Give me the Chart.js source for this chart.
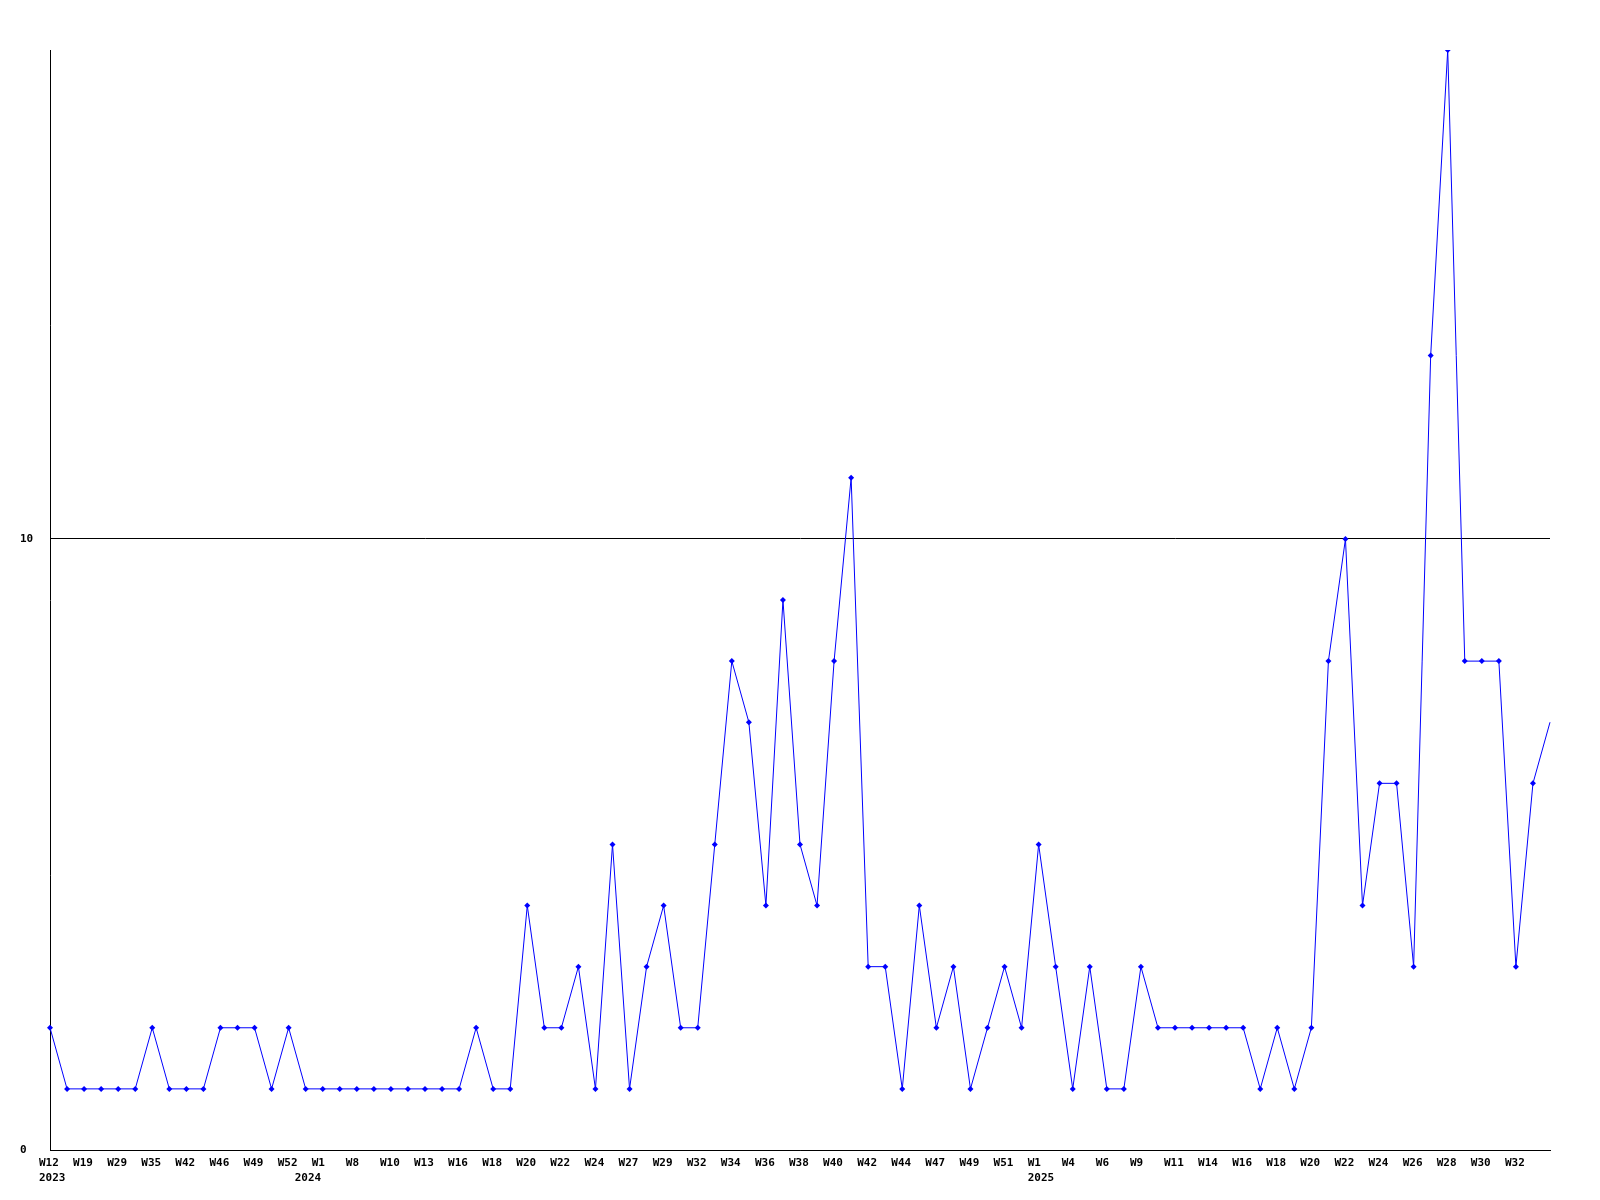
<!DOCTYPE html>
<html>
<head>
<meta charset="utf-8">
<script src="https://cdn.jsdelivr.net/npm/chart.js@4/dist/chart.umd.min.js"></script>
<style>
  html, body { margin: 0; padding: 0; background: #fff; }
  #wrap { width: 1600px; height: 1200px; }
</style>
</head>
<body>
<div id="wrap"><canvas id="graf"></canvas></div>
<script>
"use strict";

// week labels, one per data point (odd ones are not shown on the axis)
const uger = [
  "W12","W15","W19","W24","W29","W33","W35","W38","W42","W44","W46","W48","W49","W51","W52","W53",
  "W1","W5","W8","W9","W10","W12","W13","W15","W16","W17","W18","W19","W20","W21","W22","W23",
  "W24","W26","W27","W28","W29","W31","W32","W33","W34","W35","W36","W37","W38","W39","W40","W41",
  "W42","W43","W44","W45","W47","W48","W49","W50","W51","W52",
  "W1","W2","W4","W5","W6","W8","W9","W10","W11","W13","W14","W15","W16","W17","W18","W19",
  "W20","W21","W22","W23","W24","W25","W26","W27","W28","W29","W30","W31","W32","W33","W34"
];
const aarIndeks = [0, 15, 58];
const aarTekst  = ["2023", "2024", "2025"];

const antal = [
  2,1,1,1,1,1,2,1,1,1,2,2,2,1,2,1,
  1,1,1,1,1,1,1,1,1,2,1,1,4,2,2,3,
  1,5,1,3,4,2,2,5,8,7,4,9,5,4,8,11,
  3,3,1,4,2,3,1,2,3,2,
  5,3,1,3,1,1,3,2,2,2,2,2,2,1,2,1,
  2,8,10,4,6,6,3,13,18,8,8,8,3,6,7
];

const yTicks = [0, 10];

const skrift = { family: "'DejaVu Sans Mono', monospace", size: 11, weight: "bold", lineHeight: 1.35 };

new Chart(document.getElementById("graf").getContext("2d"), {
  type: "line",
  data: {
    labels: uger,
    datasets: [{
      data: antal,
      borderColor: "#0000ff",
      backgroundColor: "#0000ff",
      borderWidth: 1,
      tension: 0,
      pointStyle: "rectRot",
      pointRadius: antal.map((v, i) => i === antal.length - 1 ? 0 : 3),
      pointBorderWidth: 0,
      fill: false
    }]
  },
  options: {
    responsive: true,
    maintainAspectRatio: false,
    animation: false,
    layout: { padding: { left: 20, right: 50, top: 50, bottom: 0 } },
    plugins: { legend: { display: false }, tooltip: { enabled: false } },
    scales: {
      x: {
        grid: { display: false },
        border: { display: true, color: "#000", width: 1 },
        afterFit: s => { s.height = 50; },
        ticks: {
          autoSkip: false,
          maxRotation: 0,
          minRotation: 0,
          align: "start",
          labelOffset: -11,
          padding: -2,
          color: "#000",
          font: skrift,
          callback: (v, i) => {
            if (i >= uger.length - 1) return "";
            const a = aarIndeks.indexOf(i);
            const uge = i % 2 === 0 ? uger[i] : "";
            if (a >= 0) return [uge, aarTekst[a]];
            return uge;
          }
        }
      },
      y: {
        min: 0,
        max: 18,
        afterFit: s => { s.width = 30; },
        afterBuildTicks: s => { s.ticks = yTicks.map(v => ({ value: v })); },
        grid: { color: "#000", lineWidth: 1, drawTicks: false },
        border: { display: true, color: "#000", width: 1 },
        ticks: {
          crossAlign: "far",
          color: "#000",
          font: skrift,
          padding: 0
        }
      }
    }
  }
});
</script>
</body>
</html>
